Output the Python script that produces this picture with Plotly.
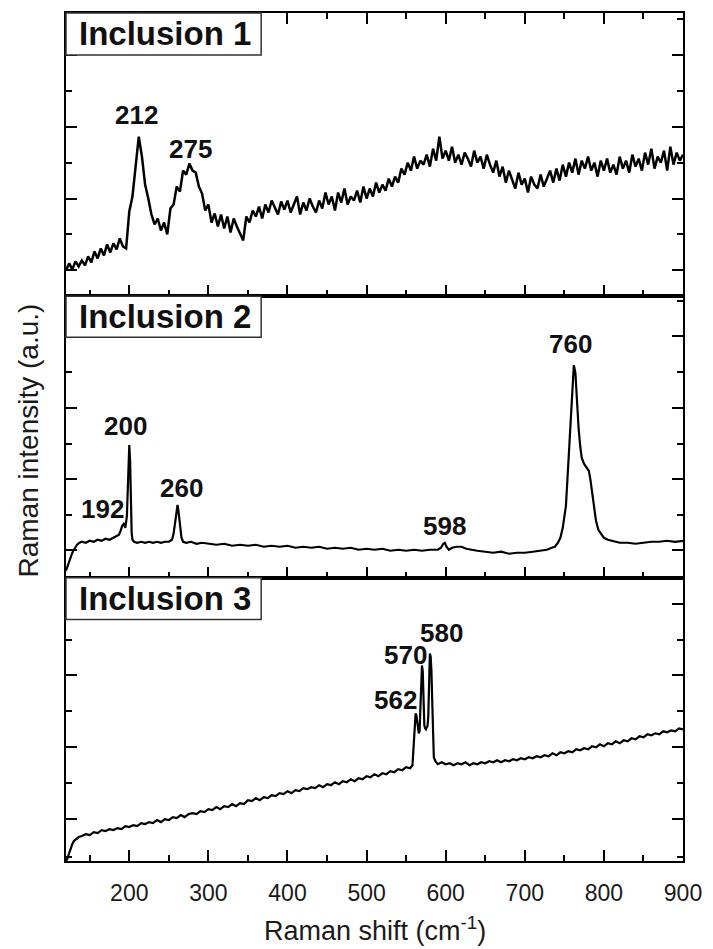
import plotly.graph_objects as go

# ---------------- data (intensity in arbitrary units) ----------------
# Inclusion 1: x = 120..900 step 4
inc1_x = list(range(120, 901, 4))
inc1_y = [
    26, 33, 27, 35, 30, 36, 31, 40, 34, 45,
    38, 48, 41, 52, 44, 53, 47, 58, 50, 48,
    85, 100, 130, 160, 140, 112, 98, 82, 72, 78,
    66, 74, 62, 88, 92, 110, 105, 126, 122, 133,
    126, 124, 110, 103, 86, 92, 74, 83, 70, 82,
    68, 80, 64, 78, 70, 62, 56, 80, 74, 86,
    80, 90, 78, 92, 84, 96, 88, 82, 95, 87,
    96, 84, 92, 100, 82, 94, 86, 98, 90, 84,
    96, 88, 104, 92, 100, 86, 104, 94, 108, 92,
    100, 96, 106, 94, 110, 98, 108, 100, 114, 104,
    112, 106, 118, 110, 120, 114, 128, 122, 134, 126,
    140, 128, 136, 132, 142, 130, 148, 136, 160, 138,
    146, 136, 150, 134, 142, 132, 144, 138, 130, 146,
    134, 140, 128, 142, 132, 124, 136, 120, 130, 114,
    126, 118, 108, 124, 112, 118, 104, 120, 112, 108,
    122, 110, 118, 126, 114, 128, 116, 132, 120, 134,
    124, 138, 122, 136, 128, 140, 126, 134, 120, 136,
    126, 138, 124, 132, 122, 140, 128, 136, 124, 142,
    130, 138, 126, 144, 132, 148, 128, 140, 134, 146,
    126, 150, 132, 144, 136, 142,
]

# Inclusion 2
inc2_x = [120, 122, 124, 126, 128, 130, 132, 134, 137, 140, 145, 150, 155, 160, 165, 170, 175, 180,
          184, 187, 189, 191, 193, 195, 197, 198, 199, 200, 201, 202, 203, 204, 206, 210, 215, 220,
          225, 230, 235, 240, 245, 250, 254, 256, 258, 260, 261, 262, 264, 266, 268, 272, 278, 285,
          292, 300, 310, 320, 330, 340, 350, 360, 370, 380, 390, 400, 410, 420, 430, 440, 450, 460,
          470, 480, 490, 500, 510, 520, 530, 540, 550, 560, 570, 580, 590, 594, 597, 599, 601, 604,
          608, 614, 620, 626, 632, 640, 650, 660, 670, 680, 690, 700, 710, 720, 728, 734, 738, 742,
          745, 748, 750, 752, 754, 756, 758, 760, 762, 764, 766, 768, 770, 772, 775, 778, 781, 783,
          785, 788, 790, 793, 796, 800, 805, 810, 815, 820, 830, 840, 850, 860, 870, 880, 890, 900]
inc2_y = [7, 12, 17, 21, 25, 28, 31, 33, 35, 36, 35, 37, 36, 38, 37, 39, 38, 40,
          41, 43, 47, 52, 54, 50, 62, 95, 125, 133, 118, 75, 45, 38, 36, 35, 36, 35,
          36, 35, 36, 35, 36, 36, 38, 44, 58, 71, 73, 68, 50, 40, 36, 35, 36, 34,
          35, 34, 33, 34, 32, 33, 32, 33, 31, 32, 31, 32, 30, 31, 30, 31, 29, 30,
          29, 30, 28, 29, 28, 29, 27, 28, 27, 28, 27, 28, 28, 30, 34, 35, 31, 28,
          30, 31, 31, 29, 28, 27, 26, 25, 26, 24, 25, 25, 26, 27, 28, 30, 31, 35,
          40, 50, 60, 72, 100, 130, 165, 195, 213, 205, 176, 150, 132, 120, 114, 110, 107, 98,
          85, 68, 57, 48, 44, 40, 38, 37, 36, 35, 35, 34, 35, 36, 36, 37, 36, 37]

# Inclusion 3
inc3_x = [120, 122, 124, 126, 128, 130, 133, 136] + list(range(140, 556, 5)) + [558,
          560, 561, 562, 563, 564, 565, 566, 567, 568, 569, 570, 571, 572, 573, 574, 575, 576, 577,
          578, 579, 580, 581, 582, 583, 584, 585, 587] + list(range(590, 901, 5))
inc3_y = [0, 3, 8, 13, 17, 20, 22, 24,
          25, 27, 26, 29, 28, 31, 30, 32, 31, 33, 32, 35, 34, 36, 35, 38, 37, 39, 38, 41, 39, 42,
          41, 44, 43, 46, 44, 47, 48, 47, 50, 49, 52, 51, 54, 52, 55, 54, 57, 55, 58, 57,
          61, 60, 63, 61, 64, 63, 66, 65, 68, 67, 70, 68, 71, 70, 73, 72, 74, 73, 76, 74,
          77, 76, 79, 77, 80, 79, 82, 80, 83, 82, 85, 84, 87, 85, 88, 87, 90, 89, 92, 91,
          94, 93, 96,
          120, 140, 148, 146, 140, 132, 128, 130, 160, 185, 196, 190, 160, 136, 133, 132, 134, 135,
          145, 180, 208, 205, 190, 160, 120, 104, 100,
          97, 99, 97, 98, 96, 98, 97, 99, 96, 98, 97, 99, 98, 100, 99, 101, 99, 101, 100, 102,
          101, 103, 102, 104, 103, 105, 104, 106, 105, 108, 106, 109, 108, 110, 109, 112, 111, 113,
          112, 115, 114, 117, 115, 118, 117, 120, 118, 121, 120, 123, 122, 125, 124, 127, 126, 128,
          127, 130, 129, 131, 130, 133, 132]

x_major = [200, 300, 400, 500, 600, 700, 800, 900]
x_minor = [150, 250, 350, 450, 550, 650, 750, 850]
x_ticktext = ["200", "300", "400", "500", "600", "700", "800", "900"]

panel_names = ["Inclusion 1", "Inclusion 2", "Inclusion 3"]
y_ranges = [[0, 284], [0, 282], [0, 284]]
y_major = [[26, 98, 170, 242], [28, 99, 170, 242], [42, 114, 186, 258]]
y_minor = [[62, 134, 206, 278], [63, 134, 206, 277], [4, 78, 150, 222]]

peak_labels = [
    [("212", 209.7, 182), ("275", 277, 148)],
    [("192", 166, 69), ("200", 194.8, 152), ("260", 265.8, 90), ("598", 598.5, 52), ("760", 758, 234)],
    [("562", 536, 161), ("570", 548.6, 206), ("580", 594.7, 229)],
]

# ---------------- figure ----------------
FONT = "Arial, 'Liberation Sans', sans-serif"
fig = go.Figure()
series = [(inc1_x, inc1_y), (inc2_x, inc2_y), (inc3_x, inc3_y)]
axis_ids = ["", "2", "3"]
line_widths = [2.5, 2.2, 2.2]
for (xs, ys), aid, lw in zip(series, axis_ids, line_widths):
    fig.add_trace(go.Scatter(x=xs, y=ys, mode="lines", xaxis="x" + aid, yaxis="y" + aid,
                             line=dict(color="black", width=lw), showlegend=False,
                             hoverinfo="skip"))

domains = [[0.6659, 1.0], [0.3341, 0.6659], [0.0, 0.3341]]
layout = dict(
    width=713, height=949,
    margin=dict(l=66, r=21, t=11, b=88),
    paper_bgcolor="white", plot_bgcolor="white",
    font=dict(family=FONT, color="black"),
    showlegend=False,
)
for i, aid in enumerate(axis_ids):
    xa = dict(
        range=[120, 900], domain=[0, 1], anchor="y" + aid,
        showgrid=False, zeroline=False, showline=True, linecolor="black", linewidth=2,
        ticks="inside", ticklen=11, tickwidth=2, tickcolor="black",
        tickvals=x_major, ticktext=x_ticktext,
        minor=dict(tickvals=x_minor, ticks="inside", ticklen=6, tickwidth=2, tickcolor="black"),
        mirror="ticks" if i == 0 else True,
        showticklabels=(i == 2),
        tickfont=dict(size=23, color="#1a1a1a", family=FONT),
        ticklabelstandoff=10,
    )
    if i > 0:
        xa["matches"] = "x"
    ya = dict(
        range=y_ranges[i], domain=domains[i], anchor="x" + aid,
        showgrid=False, zeroline=False, showline=True, linecolor="black", linewidth=2,
        ticks="inside", ticklen=11, tickwidth=2, tickcolor="black",
        tickvals=y_major[i],
        minor=dict(tickvals=y_minor[i], ticks="inside", ticklen=6, tickwidth=2, tickcolor="black"),
        mirror="ticks", showticklabels=False,
    )
    layout["xaxis" + aid] = xa
    layout["yaxis" + aid] = ya
fig.update_layout(**layout)

# panel name boxes
box_heights = [42 / 284, 41 / 282, 42 / 284]
box_w = (264 - 66) / 626
shapes = []
annotations = []
for i, aid in enumerate(axis_ids):
    xr = "x" + aid + " domain"
    yr = "y" + aid + " domain"
    shapes.append(dict(type="rect", xref=xr, yref=yr, x0=0, x1=box_w, y0=1 - box_heights[i], y1=1,
                       line=dict(color="#333333", width=1.5), fillcolor="white", layer="above"))
    annotations.append(dict(xref=xr, yref=yr, x=box_w / 2 + 0.003, y=1 - box_heights[i] / 2,
                            text="<b>" + panel_names[i] + "</b>", showarrow=False,
                            xanchor="center", yanchor="middle",
                            font=dict(size=33, family=FONT, color="#111111")))
    for txt, px, py in peak_labels[i]:
        annotations.append(dict(xref="x" + aid, yref="y" + aid, x=px, y=py,
                                text="<b>" + txt + "</b>", showarrow=False,
                                xanchor="center", yanchor="middle",
                                font=dict(size=26, family=FONT, color="#111111")))

annotations.append(dict(xref="paper", yref="paper", x=0.5, y=(861 - 929) / 850,
                        text="Raman shift (cm<sup>-1</sup>)", showarrow=False,
                        xanchor="center", yanchor="middle",
                        font=dict(size=27, family=FONT, color="#1a1a1a")))
annotations.append(dict(xref="paper", yref="paper", x=(28 - 66) / 626, y=(861 - 440) / 850,
                        text="Raman intensity (a.u.)", showarrow=False, textangle=-90,
                        xanchor="center", yanchor="middle",
                        font=dict(size=28, family=FONT, color="#1a1a1a")))
fig.update_layout(shapes=shapes, annotations=annotations)

fig.write_html("out.html")
